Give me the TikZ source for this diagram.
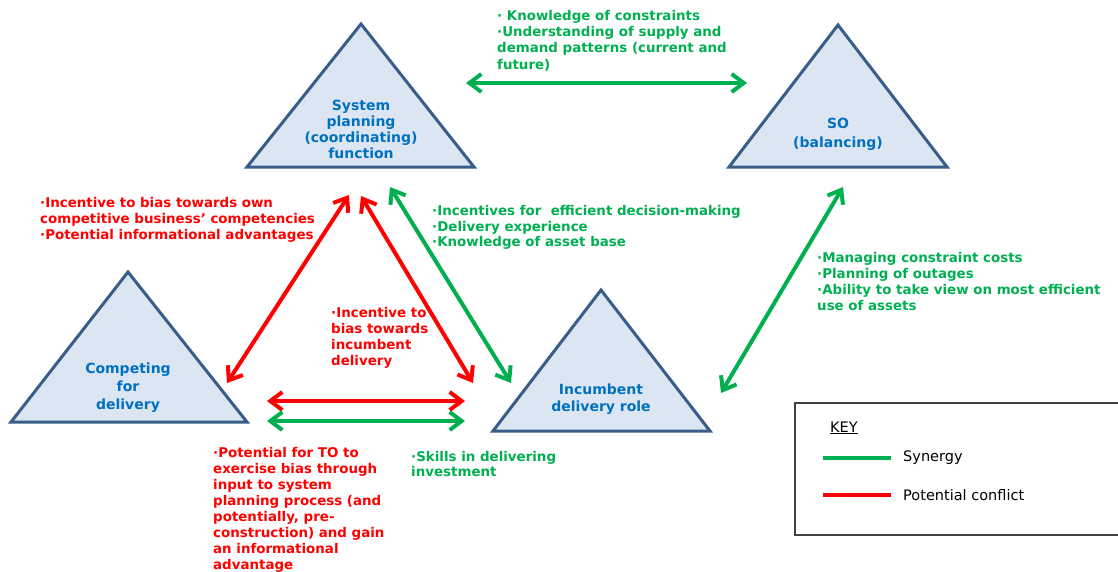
\documentclass[tikz,border=0pt]{standalone}
\usepackage{fontspec}
\setmainfont{DejaVu Sans}
\usetikzlibrary{arrows.meta}
\definecolor{syn}{HTML}{00B050}
\definecolor{con}{HTML}{FF0000}
\definecolor{triline}{HTML}{385D8A}
\definecolor{trifill}{HTML}{DCE6F2}
\definecolor{tritext}{HTML}{0070C0}
\definecolor{keyline}{HTML}{404040}

\begin{document}
\begin{tikzpicture}[x=1pt,y=-1pt,
  role/.style={draw=triline, fill=trifill, line width=3pt, line join=miter},
  roletext/.style={text=tritext, font=\bfseries\fontsize{14}{16}\selectfont,
    align=center, anchor=north, inner sep=0pt},
  note/.style={font=\bfseries\fontsize{13.4}{16}\selectfont, align=left,
    anchor=north west, inner sep=0pt},
  barb/.tip={Straight Barb[length=12pt,width=18pt]},
  link/.style={line width=4pt, barb-barb},
  synergy/.style={link, draw=syn},
  conflict/.style={link, draw=con},
  keytext/.style={font=\fontsize{14.5}{17}\selectfont, anchor=west, inner sep=0pt}]

\useasboundingbox (0,0) rectangle (1118,571);

% ---- roles (triangles) ----
\draw[role] (361,24) -- (474,167) -- (247,167) -- cycle;
\draw[role] (838,25) -- (947,167) -- (729,167) -- cycle;
\draw[role] (128,272) -- (247,422) -- (11,422) -- cycle;
\draw[role] (601,290) -- (710,431) -- (493,431) -- cycle;

\node[roletext] (sp) at (361,99.5) {System\\planning\\(coordinating)\\function};
\node[roletext] (so) at (838,118) {SO\\[3pt](balancing)};
\node[roletext] (cd) at (128,363) {Competing\\[2pt]for\\[2pt]delivery};
\node[roletext] (ic) at (601,384) {Incumbent\\[1pt]delivery role};

% ---- connector end points ----
\coordinate (spR) at (466,83);
\coordinate (soL) at (747,83);
\coordinate (spBL) at (349,195);
\coordinate (cdTR) at (227,383);
\coordinate (spBM) at (361,196);
\coordinate (icTL) at (473,383);
\coordinate (spBR) at (390,187);
\coordinate (icTL2) at (511,383);
\coordinate (soB) at (843,187);
\coordinate (icR) at (721,393);
\coordinate (cdR1) at (267,401);
\coordinate (icL1) at (465,401);
\coordinate (cdR2) at (267,421);
\coordinate (icL2) at (465,421);

% ---- connectors ----
\draw[synergy] (spR) -- (soL);
\draw[conflict] (spBL) -- (cdTR);
\draw[conflict] (spBM) -- (icTL);
\draw[synergy] (spBR) -- (icTL2);
\draw[synergy] (soB) -- (icR);
\draw[conflict] (cdR1) -- (icL1);
\draw[synergy] (cdR2) -- (icL2);

% ---- annotations ----
\node[note, text=syn, font=\bfseries\fontsize{13.4}{16.3}\selectfont] (n1) at (497,10)
  {· Knowledge of constraints\\·Understanding of supply and\\demand patterns (current and\\future)};
\node[note, text=con] (n2) at (40,197.5)
  {·Incentive to bias towards own\\competitive business’ competencies\\·Potential informational advantages};
\node[note, text=con] (n3) at (331,307.5)
  {·Incentive to\\bias towards\\incumbent\\delivery};
\node[note, text=syn, font=\bfseries\fontsize{13.4}{15.5}\selectfont] (n4) at (432,205.5)
  {·Incentives for\ \ efficient decision-making\\·Delivery experience\\·Knowledge of asset base};
\node[note, text=syn] (n5) at (817,252.5)
  {·Managing constraint costs\\·Planning of outages\\·Ability to take view on most efficient\\use of assets};
\node[note, text=con] (n6) at (213,447.5)
  {·Potential for TO to\\exercise bias through\\input to system\\planning process (and\\potentially, pre-\\construction) and gain\\an informational\\advantage};
\node[note, text=syn, font=\bfseries\fontsize{13.4}{15}\selectfont] (n7) at (411,451.5)
  {·Skills in delivering\\investment};

% ---- key ----
\draw[keyline, line width=1.2pt] (1125,403) -- (795,403) -- (795,535) -- (1125,535);
\node[keytext] (key) at (830,428) {\underline{KEY}};
\coordinate (ks1) at (823,458);
\coordinate (ks2) at (891,458);
\coordinate (kc1) at (823,495);
\coordinate (kc2) at (891,495);
\draw[syn, line width=4pt] (ks1) -- (ks2);
\draw[con, line width=4pt] (kc1) -- (kc2);
\node[keytext] (ksyn) at (903,458) {Synergy};
\node[keytext] (kcon) at (903,495) {Potential conflict};
\end{tikzpicture}
\end{document}
